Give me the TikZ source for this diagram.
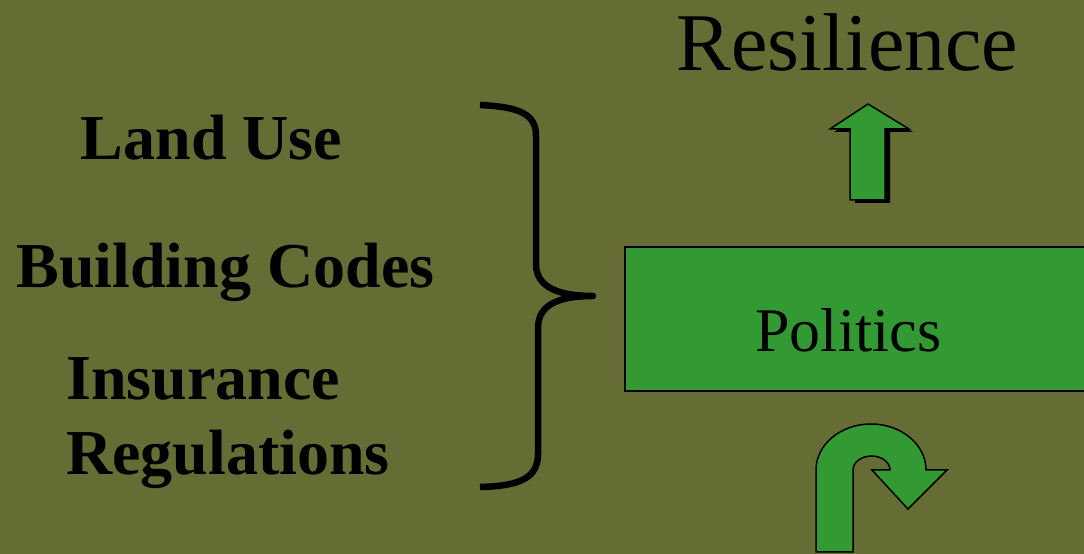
\documentclass[tikz,border=0pt]{standalone}
\usepackage{fontspec}
\setmainfont{Liberation Serif}
\definecolor{bgolive}{RGB}{101,108,52}
\definecolor{boxgreen}{RGB}{51,153,51}
\tikzset{
  lbl/.style={inner sep=0pt, anchor=base, text=black},
  leftlbl/.style={lbl, font=\fontsize{64}{64}\selectfont\bfseries},
  greenshape/.style={fill=boxgreen, draw=black, line width=1.5pt, line join=miter},
  bracestyle/.style={draw=black, line width=6.5pt, line cap=butt, line join=round}
}
\begin{document}
\begin{tikzpicture}[x=1pt,y=1pt]
\useasboundingbox (0,0) rectangle (1084,554);
\fill[bgolive] (0,0) rectangle (1084,554);
% Politics box
\node[greenshape, minimum width=480pt, minimum height=144pt, anchor=south west, inner sep=0pt] (box) at (624,162) {};
\node[lbl, font=\fontsize{62}{62}\selectfont] (politics) at (848.5,202) {Politics};
% Resilience
\node[lbl, font=\fontsize{82}{82}\selectfont] (resilience) at (847.5,483) {Resilience};
% Left labels
\node[leftlbl] (landuse) at (211.5,394) {Land Use};
\node[leftlbl] (building) at (225.5,266) {Building Codes};
\node[leftlbl, anchor=base west] (insurance) at (66,154) {Insurance};
\node[leftlbl, anchor=base west] (regulations) at (66,79) {Regulations};
% Brace
\coordinate (bracetip) at (593,258);
\path[bracestyle] (480,449) .. controls (520,447) and (536,440) .. (536,418) -- (536,290) .. controls (536,266) and (560,258) .. (bracetip)
  .. controls (560,258) and (538,250) .. (538,226) -- (538,100) .. controls (538,76) and (520,68) .. (480,67);
% Up arrow with shadow
\fill[black] (872,447) -- (913,422) -- (890,422) -- (890,351) -- (855,351) -- (855,422) -- (834,422) -- cycle;
\path[greenshape] (868,450) -- (909,425) -- (885,425) -- (885,354) -- (850,354) -- (850,425) -- (830,425) -- cycle;
% U-turn arrow
\path[greenshape] (816,2) -- (816,84) arc[start angle=180, end angle=0, x radius=55, y radius=46]
  -- (947,84) -- (908,45) -- (872,84) -- (890,84)
  arc[start angle=0, end angle=180, x radius=18.5, y radius=14] -- (853,2) -- cycle;
\end{tikzpicture}
\end{document}
